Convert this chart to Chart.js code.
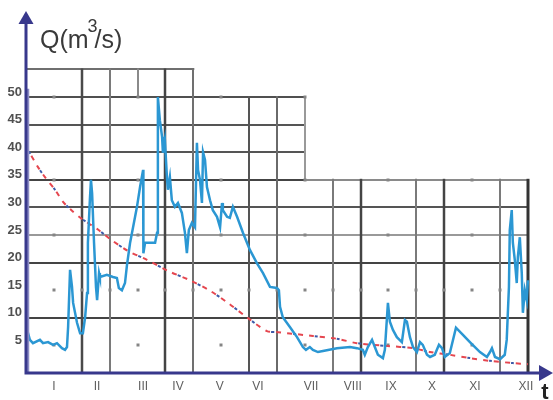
<!DOCTYPE html>
<html>
<head>
<meta charset="utf-8">
<script src="https://cdn.jsdelivr.net/npm/chart.js@4.4.1/dist/chart.umd.min.js"></script>
<style>
  html, body { margin: 0; padding: 0; background: #fff; }
  #wrap { width: 553px; height: 400px; position: relative; }
</style>
</head>
<body>
<div id="wrap"><canvas id="grafico"></canvas></div>
<script>
// x runs in grid steps (18 steps across the year), y is discharge Q in m3/s
const monthLabels = ["I", "II", "III", "IV", "V", "VI", "VII", "VIII", "IX", "X", "XI", "XII"];
const monthPos = [1.0, 2.55, 4.2, 5.45, 6.95, 8.32, 10.22, 11.72, 13.09, 14.56, 16.1, 17.93];
const yTicks = [5, 10, 15, 20, 25, 30, 35, 40, 45, 50];

const flowT = [0.04, 0.14, 0.25, 0.5, 0.61, 0.79, 0.97, 1.11, 1.29, 1.4, 1.47, 1.51, 1.58, 1.65, 1.69,
  1.83, 1.94, 2.04, 2.12, 2.19, 2.22, 2.29, 2.33, 2.37, 2.44, 2.51, 2.55, 2.62, 2.65, 2.9,
  3.12, 3.26, 3.33, 3.44, 3.55, 3.62, 3.73, 3.84, 3.98, 4.09, 4.2, 4.21, 4.27, 4.45, 4.63,
  4.7, 4.73, 4.8, 4.88, 4.91, 4.98, 5.06, 5.09, 5.16, 5.23, 5.34, 5.45, 5.59, 5.7, 5.77,
  5.84, 5.95, 6.06, 6.13, 6.17, 6.24, 6.31, 6.35, 6.42, 6.49, 6.6, 6.7, 6.85, 6.96, 7.03,
  7.06, 7.21, 7.31, 7.42, 7.57, 7.78, 8.03, 8.28, 8.5, 8.75, 9.0, 9.07, 9.11, 9.21, 9.47,
  9.72, 9.93, 10.04, 10.18, 10.29, 10.47, 10.65, 11.15, 11.62, 11.87, 12.08, 12.15, 12.26, 12.41, 12.51,
  12.62, 12.8, 12.87, 12.98, 13.05, 13.16, 13.3, 13.48, 13.59, 13.66, 13.77, 13.88, 14.02, 14.13, 14.23,
  14.38, 14.49, 14.66, 14.81, 14.92, 15.02, 15.2, 15.42, 15.67, 15.92, 16.28, 16.53, 16.64, 16.71, 16.82,
  17.0, 17.17, 17.24, 17.32, 17.35, 17.42, 17.46, 17.53, 17.6, 17.64, 17.71, 17.78, 17.82, 17.89, 17.96, 18.0];
const flowQ = [7.8, 6.0, 5.4, 6.0, 5.4, 5.6, 5.1, 5.4, 4.5, 4.2, 4.7, 8.3, 18.7, 15.6, 12.7,
  9.1, 7.2, 7.2, 10.1, 14.5, 23.6, 31.3, 35.0, 32.6, 23.6, 15.6, 13.2, 18.1, 17.4, 17.8,
  17.4, 17.2, 15.4, 15.0, 16.3, 19.5, 23.5, 26.4, 30.1, 33.7, 36.8, 21.7, 23.6, 23.6, 23.6,
  25.4, 50.0, 45.8, 42.8, 39.9, 42.2, 35.0, 33.2, 35.5, 31.3, 30.1, 30.8, 29.0, 25.4, 21.7,
  25.9, 27.2, 26.4, 41.7, 36.8, 35.0, 30.8, 40.0, 38.6, 33.7, 31.3, 29.5, 28.3, 26.4, 30.8,
  29.5, 28.3, 28.1, 30.1, 28.3, 25.4, 22.3, 19.9, 18.1, 15.6, 15.4, 15.0, 12.0, 10.1, 8.3,
  6.5, 4.7, 4.2, 4.7, 4.2, 3.8, 4.0, 4.5, 4.7, 4.5, 4.2, 3.3, 4.7, 6.0, 4.7,
  3.3, 2.7, 4.2, 12.7, 9.3, 7.8, 6.5, 5.6, 9.6, 9.3, 6.5, 4.7, 3.8, 5.6, 5.1,
  3.3, 2.9, 3.3, 5.1, 4.5, 2.9, 3.6, 8.2, 6.9, 5.6, 3.8, 2.9, 3.8, 4.5, 2.9,
  2.5, 3.3, 6.0, 15.6, 25.9, 29.5, 23.6, 20.5, 16.3, 21.0, 24.6, 18.1, 10.9, 15.0, 13.2, 16.8];

const trendT = [0, 0.43, 0.68, 1.04, 1.33, 1.65, 2.01, 2.55, 3.01, 3.66, 4.34, 5.09, 5.88, 6.6, 7.24,
  7.92, 8.64, 9.04, 10.29, 11.15, 11.87, 12.95, 13.88, 14.49, 15.2, 15.92, 16.64, 17.46, 18.0];
const trendQ = [41.1, 37.3, 35.5, 33.2, 31.0, 29.4, 27.9, 26.1, 24.3, 22.1, 20.5, 18.5, 16.8, 14.9, 12.7,
  10.1, 7.6, 7.4, 6.7, 6.2, 5.4, 4.9, 4.5, 3.8, 3.3, 2.7, 2.2, 1.8, 1.6];

const pts = (xs, ys) => xs.map((v, i) => ({ x: v, y: ys[i] }));

// stepped grid of the original drawing
const vLines = [
  { u: 2, from: 0, to: 55, c: "#4a4a4a", w: 2.5 },
  { u: 3, from: 0, to: 55, c: "#7a7a7a", w: 2 },
  { u: 4, from: 50, to: 55, c: "#8a8a8a", w: 2 },
  { u: 5, from: 0, to: 55, c: "#444", w: 2.5 },
  { u: 6, from: 0, to: 55, c: "#707070", w: 2 },
  { u: 8, from: 0, to: 50, c: "#555", w: 2 },
  { u: 9, from: 0, to: 50, c: "#6a6a6a", w: 2 },
  { u: 10, from: 35, to: 50, c: "#999", w: 2 },
  { u: 11, from: 0, to: 35, c: "#7a7a7a", w: 2 },
  { u: 12, from: 0, to: 35, c: "#444", w: 2.5 },
  { u: 14, from: 0, to: 35, c: "#7a7a7a", w: 2 },
  { u: 15, from: 0, to: 35, c: "#444", w: 2.5 },
  { u: 17, from: 0, to: 35, c: "#7a7a7a", w: 2 },
  { u: 18, from: 0, to: 35, c: "#333", w: 3 }
];
const hLines = [
  { v: 55, from: 0, to: 6, c: "#6f6f6f" },
  { v: 50, from: 0, to: 10, c: "#505050" },
  { v: 45, from: 0, to: 10, c: "#555" },
  { v: 40, from: 0, to: 10, c: "#555" },
  { v: 35, from: 0, to: 10, c: "#444" },
  { v: 35, from: 10, to: 18, c: "#8a8a8a" },
  { v: 30, from: 0, to: 18, c: "#555" },
  { v: 25, from: 0, to: 18, c: "#999" },
  { v: 20, from: 0, to: 18, c: "#444" },
  { v: 10, from: 0, to: 18, c: "#444" }
];

const stepGrid = {
  id: "stepGrid",
  beforeDatasetsDraw(chart) {
    const { ctx } = chart;
    const x = chart.scales.x, y = chart.scales.y;
    ctx.save();
    hLines.forEach((l) => {
      ctx.strokeStyle = l.c;
      ctx.lineWidth = 2;
      const py = Math.round(y.getPixelForValue(l.v));
      ctx.beginPath();
      ctx.moveTo(x.getPixelForValue(l.from), py);
      ctx.lineTo(x.getPixelForValue(l.to) + 1, py);
      ctx.stroke();
    });
    vLines.forEach((l) => {
      ctx.strokeStyle = l.c;
      ctx.lineWidth = l.w;
      const px = Math.round(x.getPixelForValue(l.u));
      ctx.beginPath();
      ctx.moveTo(px, y.getPixelForValue(l.from));
      ctx.lineTo(px, y.getPixelForValue(l.to) - 1);
      ctx.stroke();
    });
    // little grey dots where lines are missing
    ctx.fillStyle = "#858585";
    const topOf = (u) => (u <= 6 ? 55 : u <= 10 ? 50 : 35);
    for (let u = 1; u <= 17; u++) {
      [50, 35, 25, 15, 5].forEach((v) => {
        const odd = [1, 4, 7, 10, 13, 16].includes(u);
        if ((odd || v === 15) && v <= topOf(u)) {
          ctx.fillRect(Math.round(x.getPixelForValue(u)) - 1.5, Math.round(y.getPixelForValue(v)) - 1.5, 3, 3);
        }
      });
    }
    ctx.restore();
  },
  afterDatasetsDraw(chart) {
    const { ctx } = chart;
    const x = chart.scales.x, y = chart.scales.y;
    const x0 = x.getPixelForValue(0), y0 = y.getPixelForValue(0);
    ctx.save();
    // axes with arrows
    ctx.strokeStyle = "#8c8cc4";
    ctx.lineWidth = 2.5;
    ctx.beginPath();
    ctx.moveTo(x0 + 2, y0);
    ctx.lineTo(x0 + 2, y.getPixelForValue(51.5));
    ctx.stroke();
    ctx.strokeStyle = "#38388c";
    ctx.lineWidth = 3;
    ctx.beginPath();
    ctx.moveTo(x0, y0 + 1.5);
    ctx.lineTo(x0, chart.chartArea.top + 10);
    ctx.moveTo(x0 - 1.5, y0);
    ctx.lineTo(chart.chartArea.right - 12, y0);
    ctx.stroke();
    ctx.fillStyle = "#38388c";
    ctx.beginPath();
    ctx.moveTo(x0, chart.chartArea.top - 1);
    ctx.lineTo(x0 - 7.5, chart.chartArea.top + 12);
    ctx.lineTo(x0 + 7.5, chart.chartArea.top + 12);
    ctx.closePath();
    ctx.fill();
    const xr = chart.chartArea.right;
    ctx.beginPath();
    ctx.moveTo(xr, y0);
    ctx.lineTo(xr - 14, y0 - 8);
    ctx.lineTo(xr - 14, y0 + 8);
    ctx.closePath();
    ctx.fill();
    // axis names
    ctx.fillStyle = "#222";
    ctx.font = "bold 22px 'Liberation Sans', Arial, sans-serif";
    ctx.textAlign = "center";
    ctx.textBaseline = "alphabetic";
    ctx.fillText("t", xr - 8, 399);
    ctx.fillStyle = "#3a3a3a";
    ctx.textAlign = "left";
    ctx.font = "25px 'Liberation Sans', Arial, sans-serif";
    ctx.fillText("Q(m", 40, 48);
    const w1 = ctx.measureText("Q(m").width;
    ctx.font = "18px 'Liberation Sans', Arial, sans-serif";
    ctx.fillText("3", 40 + w1 - 1, 32);
    const w2 = ctx.measureText("3").width;
    ctx.font = "25px 'Liberation Sans', Arial, sans-serif";
    ctx.fillText("/s)", 40 + w1 + w2 - 4, 48);
    ctx.restore();
  }
};

const ctx = document.getElementById("grafico").getContext("2d");
const grafico = new Chart(ctx, {
  type: "line",
  data: {
    datasets: [
      {
        label: "Q",
        data: pts(flowT, flowQ),
        borderColor: "#2b97d3",
        borderWidth: 2.5,
        pointRadius: 0,
        tension: 0,
        order: 0
      },
      {
        label: "tendencia",
        data: pts(trendT, trendQ),
        borderColor: "#e5464f",
        borderWidth: 2,
        borderDash: [5, 6],
        pointRadius: 0,
        tension: 0.3,
        order: 2
      },
      {
        label: "tendencia2",
        data: pts(trendT, trendQ),
        borderColor: "#3c5aa8",
        borderWidth: 2,
        borderDash: [3, 19],
        borderDashOffset: -6,
        pointRadius: 0,
        tension: 0.3,
        order: 1
      }
    ]
  },
  options: {
    responsive: true,
    maintainAspectRatio: false,
    animation: false,
    layout: { padding: { top: 12, right: 0, bottom: 0, left: 0 } },
    plugins: { legend: { display: false }, tooltip: { enabled: false } },
    scales: {
      x: {
        type: "linear",
        min: 0,
        max: 18.9,
        grid: { display: false, drawTicks: false },
        border: { display: false },
        afterBuildTicks: (scale) => {
          scale.ticks = monthPos.map((v) => ({ value: v }));
        },
        afterFit: (scale) => { scale.height = 27; },
        ticks: {
          autoSkip: false,
          maxRotation: 0,
          padding: 6,
          color: "#5f5f5f",
          font: { family: "'Liberation Sans', Arial, sans-serif", size: 12 },
          callback: (v, i) => monthLabels[i]
        }
      },
      y: {
        min: 0,
        max: 65.4,
        grid: { display: false, drawTicks: false },
        border: { display: false },
        afterBuildTicks: (scale) => {
          scale.ticks = yTicks.map((v) => ({ value: v }));
        },
        afterFit: (scale) => { scale.width = 26; },
        ticks: {
          padding: 4,
          labelOffset: -5,
          color: "#505050",
          font: { family: "'Liberation Sans', Arial, sans-serif", size: 13, weight: "bold" }
        }
      }
    }
  },
  plugins: [stepGrid]
});
</script>
</body>
</html>
